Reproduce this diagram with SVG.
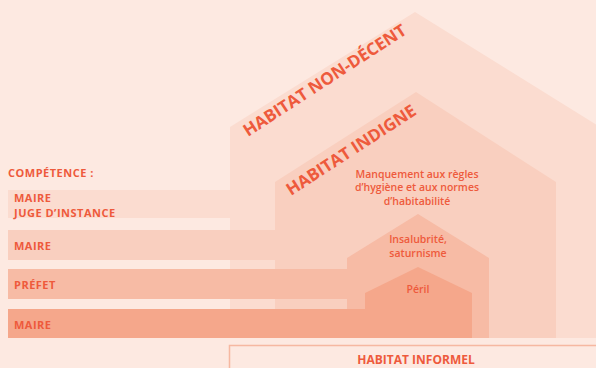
<svg xmlns="http://www.w3.org/2000/svg" width="596" height="368" viewBox="0 0 596 368">
  <style>
    .lbl { font-family: "Open Sans", "Noto Sans", "Liberation Sans", sans-serif; font-weight: 700; fill: #ee5a3c; }
    .bar { font-size: 11px; letter-spacing: 0.5px; }
    .title { font-size: 17px; }
    .desc { font-size: 10.5px; font-weight: 600; text-anchor: middle; }
    .l1 { fill: #fbdcd0; }
    .l2 { fill: #f9cfbf; }
    .l3 { fill: #f7bba5; }
    .l4 { fill: #f5a78b; }
  </style>

  <!-- background -->
  <rect width="596" height="368" fill="#fde9e1"/>

  <!-- nested houses, from widest to smallest -->
  <g id="house-non-decent">
    <polygon class="l1" points="230,338 230,127 415,12 600,127 600,338"/>
    <text class="lbl title" transform="translate(248,137) rotate(-33)">HABITAT NON-DÉCENT</text>
  </g>
  <g id="house-indigne">
    <polygon class="l2" points="275,338 275,182 416,92 556,182 556,338"/>
    <text class="lbl title" transform="translate(291,196) rotate(-33)">HABITAT INDIGNE</text>
    <text class="lbl desc" x="417" y="178">Manquement aux règles</text>
    <text class="lbl desc" x="417" y="191">d’hygiène et aux normes</text>
    <text class="lbl desc" x="417" y="205">d’habitabilité</text>
  </g>
  <g id="house-insalubrite">
    <polygon class="l3" points="347,338 347,258 418,214 489,258 489,338"/>
    <text class="lbl desc" x="418" y="243">Insalubrité,</text>
    <text class="lbl desc" x="418" y="257">saturnisme</text>
  </g>
  <g id="house-peril">
    <polygon class="l4" points="365,338 365,293 418,267 472,293 472,338"/>
    <text class="lbl desc" x="418" y="293">Péril</text>
  </g>

  <!-- competence bars -->
  <g id="competence">
    <text class="lbl bar" x="8" y="177">COMPÉTENCE :</text>
  </g>
  <g id="bar-juge">
    <rect class="l1" x="8" y="190" width="223" height="28"/>
    <text class="lbl bar" x="14" y="202">MAIRE</text>
    <text class="lbl bar" x="14" y="217">JUGE D’INSTANCE</text>
  </g>
  <g id="bar-maire-indigne">
    <rect class="l2" x="8" y="230" width="268" height="30"/>
    <text class="lbl bar" x="14" y="250">MAIRE</text>
  </g>
  <g id="bar-prefet">
    <rect class="l3" x="8" y="269" width="340" height="30"/>
    <text class="lbl bar" x="14" y="289">PRÉFET</text>
  </g>
  <g id="bar-maire-peril">
    <rect class="l4" x="8" y="309" width="358" height="29"/>
    <text class="lbl bar" x="14" y="329">MAIRE</text>
  </g>

  <!-- informal housing band -->
  <g id="informel">
    <rect x="229.5" y="345.5" width="380" height="30" fill="#fde9e1" stroke="#f6b8a1" stroke-width="1.5"/>
    <text class="lbl" x="416" y="364" font-size="12" text-anchor="middle">HABITAT INFORMEL</text>
  </g>
</svg>
